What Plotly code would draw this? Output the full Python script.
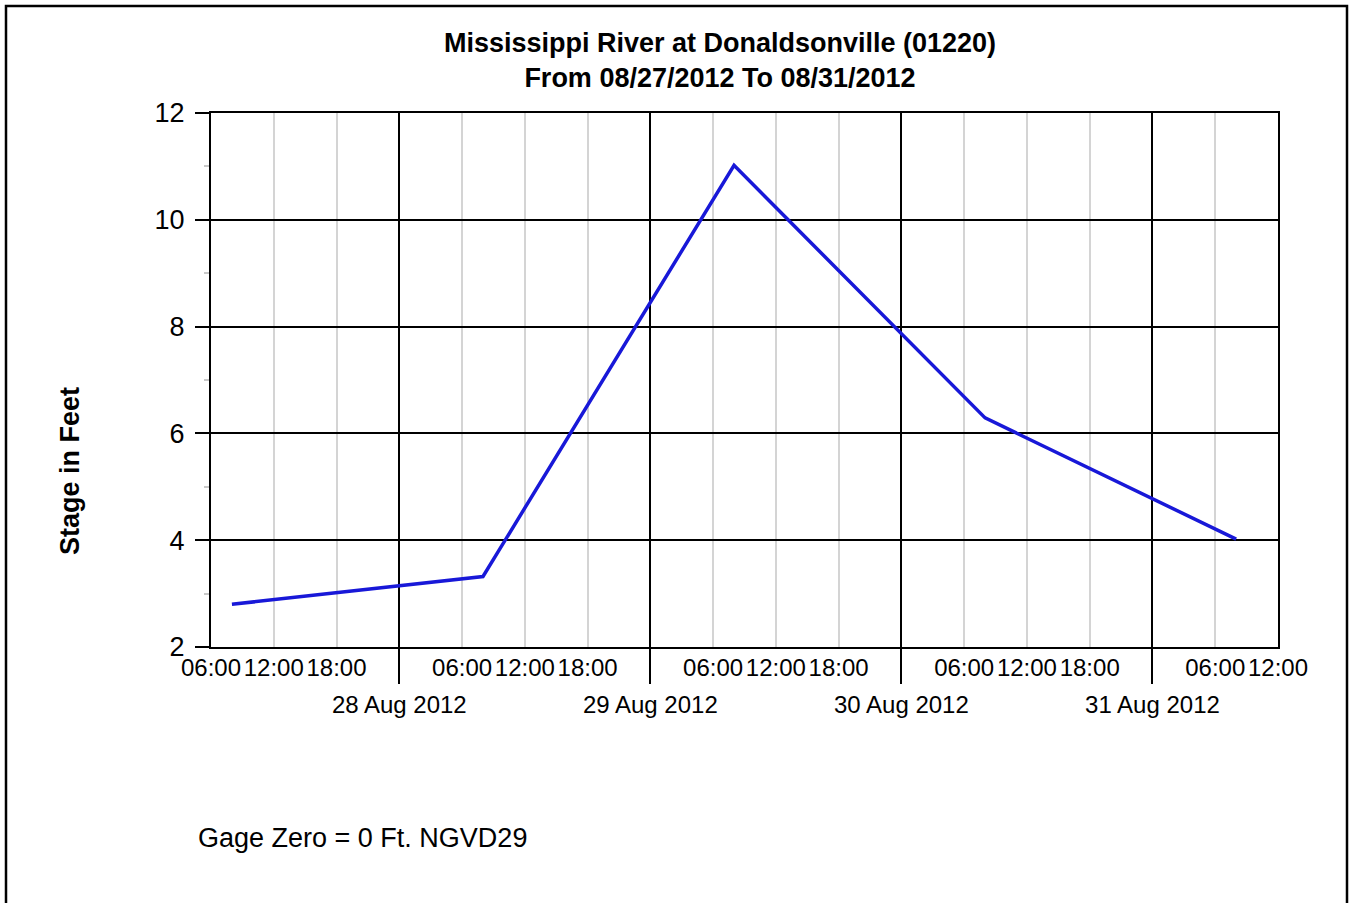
import plotly.graph_objects as go

# ---- data ----
times = ["2012-08-27 08:00", "2012-08-28 08:00", "2012-08-29 08:00",
         "2012-08-30 08:00", "2012-08-31 08:00"]
stage = [2.8, 3.32, 11.02, 6.29, 4.02]

day_ticks = ["2012-08-28", "2012-08-29", "2012-08-30", "2012-08-31"]
day_labels = ["28 Aug 2012", "29 Aug 2012", "30 Aug 2012", "31 Aug 2012"]

hour_ticks = ["2012-08-27 06:00", "2012-08-27 12:00", "2012-08-27 18:00",
              "2012-08-28 06:00", "2012-08-28 12:00", "2012-08-28 18:00",
              "2012-08-29 06:00", "2012-08-29 12:00", "2012-08-29 18:00",
              "2012-08-30 06:00", "2012-08-30 12:00", "2012-08-30 18:00",
              "2012-08-31 06:00", "2012-08-31 12:00"]
hour_labels = ["06:00", "12:00", "18:00"] * 4 + ["06:00", "12:00"]

x_range = ["2012-08-27 06:00", "2012-08-31 12:00"]
y_range = [2, 12]

title_l1 = "Mississippi River at Donaldsonville (01220)"
title_l2 = "From 08/27/2012 To 08/31/2012"
y_title = "Stage in Feet"
footnote = "Gage Zero = 0 Ft. NGVD29"

# ---- layout geometry (pixels) ----
W, H = 1351, 903
L, R, T, B = 211, 73, 113, 256
pw, ph = W - L - R, H - T - B

def px_x(p):
    return (p - L) / pw

def px_y(p):
    return (H - B - p) / ph

FONT = "Liberation Sans, Arial, sans-serif"

fig = go.Figure()
fig.add_trace(go.Scatter(x=times, y=stage, mode="lines",
                         line=dict(color="#1818d8", width=3.5),
                         showlegend=False, hoverinfo="x+y"))
fig.add_trace(go.Scatter(x=times, y=stage, mode="lines", xaxis="x2",
                         line=dict(color="rgba(0,0,0,0)", width=0),
                         showlegend=False, hoverinfo="skip"))

fig.update_layout(
    width=W, height=H,
    margin=dict(l=L, r=R, t=T, b=B, pad=0),
    paper_bgcolor="white", plot_bgcolor="white",
    font=dict(family=FONT, color="black", size=24),
    title=dict(text="<b>" + title_l1 + "<br>" + title_l2 + "</b>",
               x=px_x(720), xref="paper", xanchor="center",
               y=1 - 52 / H, yref="container", yanchor="middle",
               font=dict(family=FONT, size=27, color="black")),
    xaxis=dict(type="date", range=x_range,
               tickmode="array", tickvals=day_ticks, ticktext=day_labels,
               ticks="outside", ticklen=35, tickwidth=2, tickcolor="black",
               showgrid=True, gridcolor="black", gridwidth=1.5,
               showline=True, linecolor="black", linewidth=2, mirror=True,
               zeroline=False,
               tickfont=dict(size=24, family=FONT),
               minor=dict(dtick=6 * 3600 * 1000, tick0="2012-08-27",
                          showgrid=True, gridcolor="#d4d4d4", gridwidth=1.5,
                          ticks="")),
    xaxis2=dict(type="date", range=x_range, overlaying="x", anchor="y",
                side="bottom", matches="x",
                tickmode="array", tickvals=hour_ticks, ticktext=hour_labels,
                ticks="", showgrid=False, showline=False, zeroline=False,
                ticklabelstandoff=4,
                tickfont=dict(size=24, family=FONT)),
    yaxis=dict(range=y_range, dtick=2, tick0=2,
               ticks="outside", ticklen=14, tickwidth=2, tickcolor="black",
               showgrid=True, gridcolor="black", gridwidth=1.5,
               showline=True, linecolor="black", linewidth=2, mirror=True,
               zeroline=False, ticklabelstandoff=5,
               tickfont=dict(size=27, family=FONT),
               minor=dict(dtick=1, tick0=2, ticks="outside", ticklen=5,
                          tickcolor="#c8c8c8", tickwidth=1.5, showgrid=False)),
    shapes=[dict(type="rect", xref="paper", yref="paper",
                 x0=px_x(6), x1=px_x(1347), y0=px_y(912), y1=px_y(6),
                 line=dict(color="black", width=2.5), fillcolor="rgba(0,0,0,0)",
                 layer="above")],
    annotations=[
        dict(text="<b>" + y_title + "</b>", textangle=-90,
             xref="paper", yref="paper", x=px_x(70), y=px_y(471),
             xanchor="center", yanchor="middle", showarrow=False,
             font=dict(family=FONT, size=27, color="black")),
        dict(text=footnote, xref="paper", yref="paper",
             x=px_x(196), y=px_y(838), xanchor="left", yanchor="middle",
             showarrow=False, font=dict(family=FONT, size=27, color="black")),
    ],
)

fig.write_html("out.html", config={"displayModeBar": False},
               post_script="document.body.style.margin='0';document.body.style.overflow='hidden';")
